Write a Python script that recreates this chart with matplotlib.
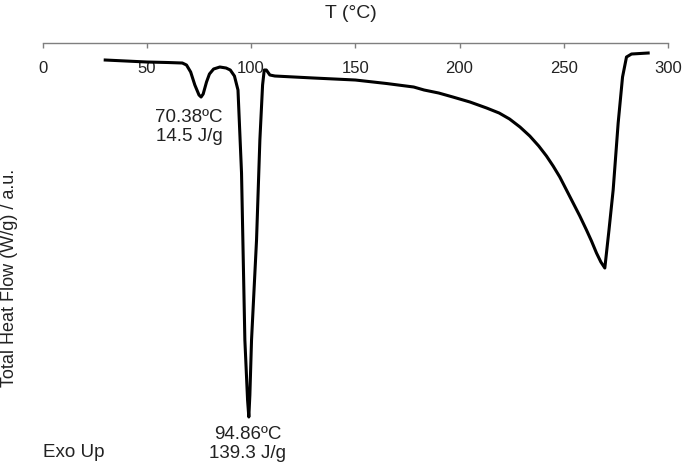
import matplotlib
matplotlib.use('Agg')
import matplotlib.pyplot as plt

plt.rcParams['font.family'] = ['Liberation Sans', 'DejaVu Sans']

# DSC trace (temperature in °C, heat flow in a.u.)
temp = [30.0, 40, 50, 60, 67, 69, 71, 73, 75, 76, 77, 78.6, 80, 82, 85, 88, 90, 92,
        93.7, 95.4, 97.0, 98.3, 98.9, 99.4, 100.2, 102.6, 104.2, 105.5, 106.3, 107.3,
        109, 111.4, 130, 150, 165, 178, 183, 190, 196.8, 205, 213, 219, 224, 229,
        233.7, 238, 241.7, 244.9, 248.1, 251.3, 254.5, 257.7, 260.9, 263.3, 265.7,
        267.8, 269.7, 271.7, 273.7, 276.1, 278.2, 280.1, 282.5, 290.5]
heat_flow = [0.00, -0.01, -0.02, -0.025, -0.03, -0.05, -0.12, -0.25, -0.35, -0.37,
             -0.34, -0.22, -0.14, -0.09, -0.07, -0.08, -0.10, -0.16, -0.30, -1.13,
             -2.80, -3.40, -3.57, -3.35, -2.80, -1.80, -0.80, -0.25, -0.10, -0.10,
             -0.15, -0.16, -0.18, -0.20, -0.235, -0.27, -0.30, -0.33, -0.37, -0.42,
             -0.48, -0.53, -0.59, -0.67, -0.76, -0.86, -0.96, -1.06, -1.17, -1.30,
             -1.43, -1.56, -1.70, -1.81, -1.93, -2.02, -2.08, -1.70, -1.30, -0.63,
             -0.17, 0.03, 0.06, 0.07]

x_ticks = [0, 50, 100, 150, 200, 250, 300]

fig = plt.figure(figsize=(6.83, 4.65), dpi=100)
ax = fig.add_axes([0.0625, 0.0, 0.9155, 0.9075])

ax.plot(temp, heat_flow, color='black', lw=2.2, solid_joinstyle='round')

ax.set_xlim(0, 300)
ax.set_ylim(-4.05, 0.17)
ax.set_xticks(x_ticks)
ax.set_yticks([])

for s in ['bottom', 'left', 'right']:
    ax.spines[s].set_visible(False)
ax.spines['top'].set_color('#7f7f7f')
ax.spines['top'].set_linewidth(1)

ax.tick_params(axis='x', top=True, bottom=False, labeltop=True, labelbottom=False,
               direction='in', length=3.5, width=1, color='#7f7f7f',
               labelsize=12, pad=-24, labelcolor='#222222')

fig.text(351 / 683, 1 - 13 / 465, 'T (°C)', ha='center', va='center', fontsize=14,
         color='#222222')
fig.text(10 / 683, 1 - 278 / 465, 'Total Heat Flow (W/g) / a.u.', rotation=90,
         ha='center', va='center', fontsize=13, color='#222222')

ax.text(70.2, -0.67, '70.38ºC\n14.5 J/g', ha='center', va='center', fontsize=13.5,
        color='#222222', linespacing=1.2)
ax.text(98.5, -3.84, '94.86ºC\n139.3 J/g', ha='center', va='center', fontsize=13.5,
        color='#222222', linespacing=1.2)
ax.text(0, -3.92, 'Exo Up', ha='left', va='center', fontsize=13.5, color='#222222')

fig.savefig('out.png', dpi=100)
